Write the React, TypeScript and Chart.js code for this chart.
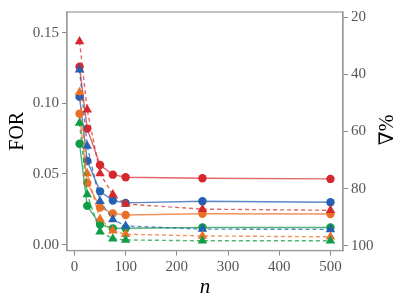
import React, { useEffect, useRef } from "react";
import { Chart, registerables } from "chart.js";
Chart.register(...registerables);

const nValues = [10, 25, 50, 75, 100, 250, 500];

const forRed = [0.126, 0.0821, 0.0563, 0.0495, 0.0477, 0.047, 0.0465];
const forBlue = [0.1047, 0.0593, 0.0377, 0.0312, 0.0295, 0.0307, 0.03];
const forOrange = [0.0926, 0.0437, 0.0263, 0.0221, 0.0209, 0.0218, 0.0216];
const forGreen = [0.0714, 0.0274, 0.0142, 0.0114, 0.0116, 0.0121, 0.0121];

const nablaRed = [28.4, 52.4, 74.7, 82.1, 85.4, 87.2, 87.6];
const nablaBlue = [38.3, 65.1, 84.4, 90.8, 93.1, 94.2, 94.3];
const nablaOrange = [46.2, 74.7, 90.7, 94.8, 96.0, 96.6, 96.9];
const nablaGreen = [57.0, 82.1, 95.1, 97.6, 98.0, 98.3, 98.3];

const xTicks = [0, 100, 200, 300, 400, 500];
const leftTicks = [0, 0.05, 0.1, 0.15];
const rightTicks = [20, 40, 60, 80, 100];

const xTitle = "n";
const leftTitle = "FOR";
const rightTitle = "\u2207%";

const FONT = "'Liberation Serif', 'DejaVu Serif', serif";

const COLORS = {
  red: ["rgb(214,39,44)", "rgba(214,39,44,0.7)"],
  blue: ["rgb(38,96,178)", "rgba(38,96,178,0.75)"],
  orange: ["rgb(234,112,38)", "rgba(234,112,38,0.75)"],
  green: ["rgb(18,156,72)", "rgba(18,156,72,0.75)"],
};

function pts(vals: number[]) {
  return vals.map((v, i) => ({ x: nValues[i], y: v }));
}

export default function App() {
  const ref = useRef<HTMLCanvasElement>(null);
  useEffect(() => {
    if (!ref.current) return;
    const framePlugin = {
      id: "framePlugin",
      afterDraw(chart: any) {
        const { ctx, chartArea } = chart;
        const { left, right, top, bottom } = chartArea;
        ctx.save();
        ctx.strokeStyle = "#9a9a9a";
        ctx.lineWidth = 1.2;
        ctx.strokeRect(left, top, right - left, bottom - top);
        ctx.translate(388, 130);
        ctx.rotate(-Math.PI / 2);
        ctx.fillStyle = "#000";
        ctx.font = `20px ${FONT}`;
        ctx.textAlign = "center";
        ctx.textBaseline = "middle";
        ctx.fillText(rightTitle, 0, 0);
        ctx.restore();
      },
    };

    const mk = (label: string, data: number[], c: string[], axis: string, dashed: boolean) => ({
      label,
      data: pts(data),
      yAxisID: axis,
      borderColor: c[1],
      backgroundColor: c[0],
      pointBackgroundColor: c[0],
      pointBorderColor: c[0],
      pointBorderWidth: 0,
      pointStyle: dashed ? "triangle" : "circle",
      pointRadius: dashed ? 5.5 : 4.2,
      borderWidth: 1.4,
      borderDash: dashed ? [4, 3] : [],
      tension: 0,
      fill: false,
    });

    const gridCfg = {
      display: true,
      drawOnChartArea: false,
      drawTicks: true,
      tickLength: 5,
      color: "#8a8a8a",
      lineWidth: 1,
    };
    const borderCfg = { display: true, color: "#9a9a9a", width: 1.2 };
    const tickFont = { family: FONT, size: 15 };

    const chart = new Chart(ref.current, {
      type: "line",
      data: {
        datasets: [
          mk("∇ green", nablaGreen, COLORS.green, "y2", true),
          mk("∇ orange", nablaOrange, COLORS.orange, "y2", true),
          mk("∇ blue", nablaBlue, COLORS.blue, "y2", true),
          mk("∇ red", nablaRed, COLORS.red, "y2", true),
          mk("FOR green", forGreen, COLORS.green, "y", false),
          mk("FOR orange", forOrange, COLORS.orange, "y", false),
          mk("FOR blue", forBlue, COLORS.blue, "y", false),
          mk("FOR red", forRed, COLORS.red, "y", false),
        ] as any,
      },
      options: {
        animation: false,
        responsive: true,
        maintainAspectRatio: false,
        layout: { padding: { top: 9.5, left: 0, right: 0, bottom: 0 } },
        plugins: { legend: { display: false }, tooltip: { enabled: false } },
        scales: {
          x: {
            type: "linear",
            position: "bottom",
            min: -14.5,
            max: 524.5,
            afterBuildTicks: (s: any) => {
              s.ticks = xTicks.map((v) => ({ value: v }));
            },
            afterFit: (s: any) => {
              s.height = 55.5;
            },
            ticks: { font: tickFont, color: "#555", padding: 3, maxRotation: 0, callback: (v: any) => String(v) },
            grid: gridCfg,
            border: borderCfg,
            title: {
              display: true,
              text: xTitle,
              font: { family: FONT, size: 21, style: "italic" },
              color: "#000",
              padding: { top: 0, bottom: 6 },
            },
          },
          y: {
            type: "linear",
            position: "left",
            min: -0.0042,
            max: 0.1647,
            afterBuildTicks: (s: any) => {
              s.ticks = leftTicks.map((v) => ({ value: v }));
            },
            afterFit: (s: any) => {
              s.width = 67;
            },
            ticks: { font: tickFont, color: "#555", padding: 3, callback: (v: any) => Number(v).toFixed(2) },
            grid: gridCfg,
            border: borderCfg,
            title: {
              display: true,
              text: leftTitle,
              font: { family: FONT, size: 20 },
              color: "#000",
              padding: { top: 6, bottom: 0 },
            },
          },
          y2: {
            type: "linear",
            position: "right",
            reverse: true,
            min: 18.1,
            max: 101.7,
            afterBuildTicks: (s: any) => {
              s.ticks = rightTicks.map((v) => ({ value: v }));
            },
            afterFit: (s: any) => {
              s.width = 65;
            },
            ticks: { font: tickFont, color: "#555", padding: 3, callback: (v: any) => String(v) },
            grid: gridCfg,
            border: borderCfg,
          },
        },
      } as any,
      plugins: [framePlugin],
    });
    return () => chart.destroy();
  }, []);
  return (
    <div style={{ position: "fixed", left: 0, top: 0, width: 408, height: 306, background: "#fff" }}>
      <canvas ref={ref} />
    </div>
  );
}
